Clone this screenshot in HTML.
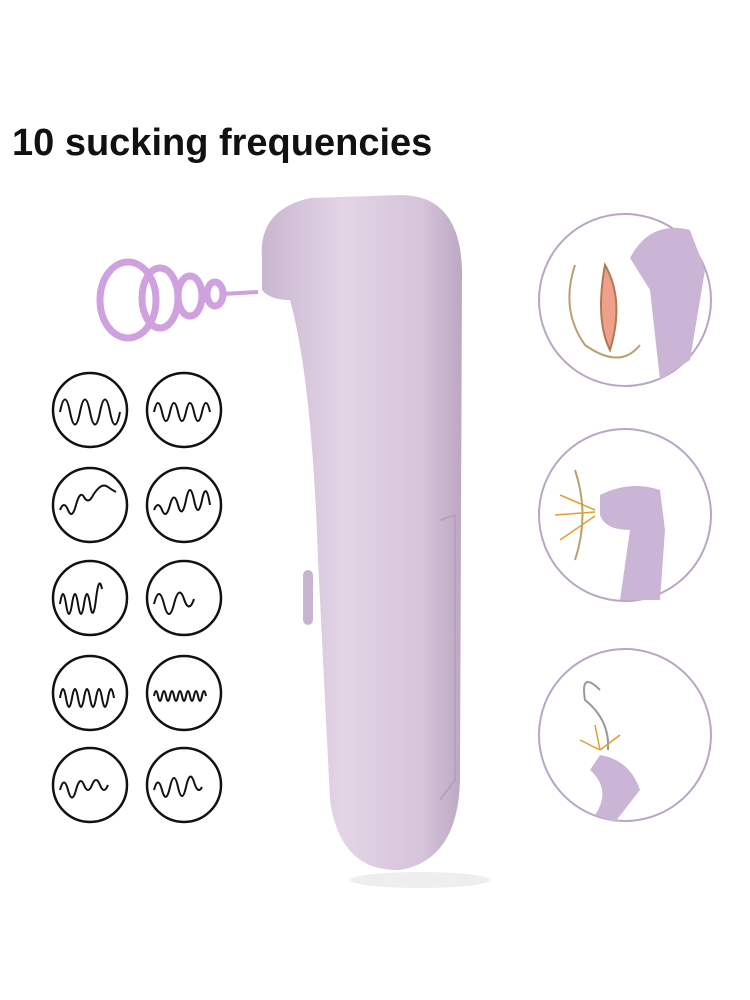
<!DOCTYPE html>
<html><head><style>
body{margin:0;background:#fff;width:750px;height:1000px;overflow:hidden;position:relative;font-family:"Liberation Sans",sans-serif}
.t{position:absolute;left:12px;top:122px;font-size:38px;font-weight:bold;color:#111;letter-spacing:0px}
</style></head><body>
<div class="t">10 sucking frequencies</div>
<svg width="750" height="1000" style="position:absolute;left:0;top:0">
<defs>
<linearGradient id="g" x1="0" x2="1">
<stop offset="0" stop-color="#c9b6d0"/><stop offset="0.4" stop-color="#e3d4e6"/><stop offset="0.8" stop-color="#d6c4da"/><stop offset="1" stop-color="#bca8c3"/>
</linearGradient>
</defs>
<!-- swirl -->
<g fill="none" stroke="#c48ad8" stroke-width="7" opacity="0.8">
<ellipse cx="128" cy="300" rx="28" ry="38"/>
<ellipse cx="160" cy="298" rx="18" ry="30"/>
<ellipse cx="190" cy="296" rx="12" ry="20"/>
<ellipse cx="215" cy="294" rx="8" ry="12"/>
<line x1="222" y1="294" x2="258" y2="292" stroke-width="4"/>
</g>
<!-- device -->
<path d="M262 258 Q258 210 310 198 L400 195 Q460 195 462 270 L460 780 Q458 860 400 870 Q340 872 330 800 L318 560 Q312 380 290 300 Q270 300 262 290 Z" fill="url(#g)"/>
<path d="M440 520 L455 515 L455 780 L440 800" fill="none" stroke="#b7a2bd" stroke-width="2"/>
<rect x="303" y="570" width="10" height="55" rx="5" fill="#c9b4cf"/>
<ellipse cx="420" cy="880" rx="70" ry="8" fill="#eee"/>
<!-- small circles -->
<g fill="none" stroke="#111" stroke-width="2.5">
<circle cx="90" cy="410" r="37"/><circle cx="184" cy="410" r="37"/>
<circle cx="90" cy="505" r="37"/><circle cx="184" cy="505" r="37"/>
<circle cx="90" cy="598" r="37"/><circle cx="184" cy="598" r="37"/>
<circle cx="90" cy="693" r="37"/><circle cx="184" cy="693" r="37"/>
<circle cx="90" cy="785" r="37"/><circle cx="184" cy="785" r="37"/>
<g stroke-width="2">
<path d="M60 412 q5 -25 10 0 t10 0 t10 0 t10 0 t10 0 t10 0"/>
<path d="M154 412 q4 -18 8 0 t8 0 t8 0 t8 0 t8 0 t8 0 t8 0"/>
<path d="M60 510 q4 -10 8 0 t8 -5 t8 -8 t8 0 t8 -10 t8 0 t8 5"/>
<path d="M154 510 q4 -10 8 0 t8 -5 t8 0 t8 -5 t8 0 t8 0 t8 5"/>
<path d="M60 604 q3 -20 6 0 t6 0 t6 0 t6 0 t6 0 t6 -5 t6 -10"/>
<path d="M154 604 q5 -20 10 0 t10 0 t10 -5 t10 0"/>
<path d="M60 698 q3 -18 6 0 t6 0 t6 0 t6 0 t6 0 t6 0 t6 0 t6 0 t6 0"/>
<path d="M154 696 q2 -10 4 0 t4 0 t4 0 t4 0 t4 0 t4 0 t4 0 t4 0 t4 0 t4 0 t4 0 t4 0 t4 0"/>
<path d="M60 790 q4 -15 8 0 t8 0 t8 -5 t8 0 t8 0 t8 0"/>
<path d="M154 790 q4 -15 8 0 t8 -3 t8 0 t8 0 t8 -5 t8 5"/>
</g></g>
<!-- right circles -->
<g fill="#fff" stroke="#b9a6c4" stroke-width="2">
<circle cx="625" cy="300" r="86"/>
<circle cx="625" cy="515" r="86"/>
<circle cx="625" cy="735" r="86"/>
</g>
<path d="M630 258 Q650 220 690 230 L705 270 L690 360 L660 380 L650 290 Z" fill="#cbb5d6"/>
<path d="M605 265 Q625 300 610 350 Q595 320 605 265Z" fill="#f0a08a" stroke="#b07a50" stroke-width="2"/>
<path d="M575 265 Q560 310 585 345 Q620 370 640 345" fill="none" stroke="#b9a070" stroke-width="2"/>
<path d="M600 495 Q630 480 660 490 L665 530 L660 600 L620 600 L630 530 Q605 530 600 515Z" fill="#cbb5d6"/>
<path d="M575 470 Q590 515 575 560" fill="none" stroke="#b9a070" stroke-width="2"/>
<g stroke="#e0a030" stroke-width="1.5"><line x1="595" y1="510" x2="560" y2="495"/><line x1="595" y1="512" x2="555" y2="515"/><line x1="595" y1="516" x2="560" y2="540"/></g>
<path d="M600 755 Q630 760 640 790 L615 822 L595 815 Q612 790 590 770Z" fill="#cbb5d6"/>
<path d="M600 690 Q580 670 585 700 Q610 720 608 750" fill="none" stroke="#999" stroke-width="2"/>
<g stroke="#e0a030" stroke-width="1.5"><line x1="600" y1="750" x2="580" y2="740"/><line x1="600" y1="750" x2="595" y2="725"/><line x1="600" y1="750" x2="620" y2="735"/></g>
</svg>
</body></html>
